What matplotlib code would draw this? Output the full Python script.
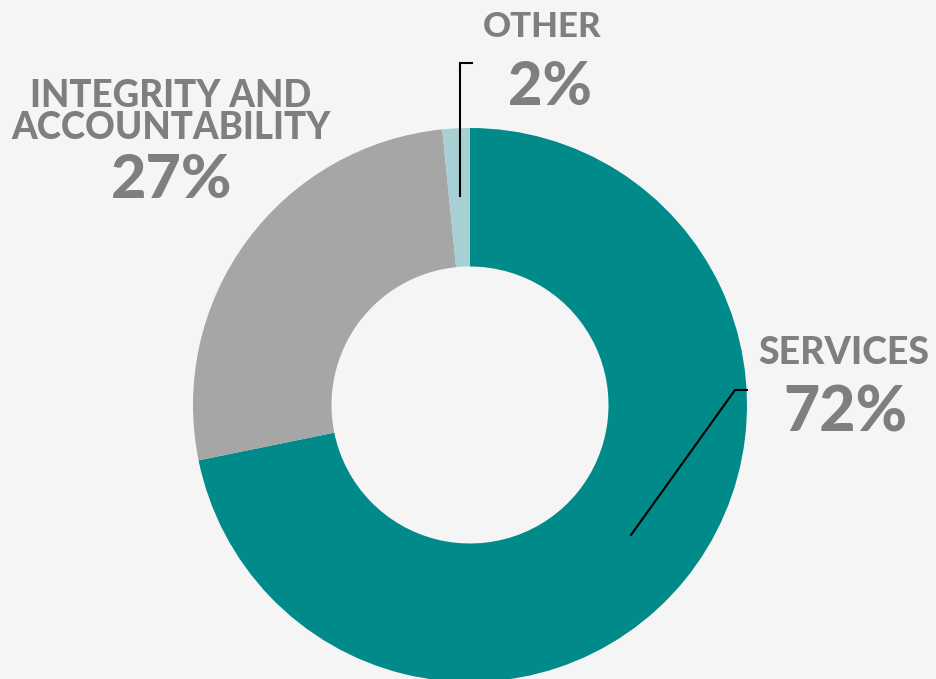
import matplotlib
matplotlib.use("Agg")
import matplotlib.pyplot as plt

# Budget split by category
categories = ["SERVICES", "INTEGRITY AND\nACCOUNTABILITY", "OTHER"]
shares = [71.8, 26.6, 1.6]
colors = ["#008A8A", "#A6A6A6", "#A6D0D3"]

BG = "#F5F5F5"
TXT = "#7F7F7F"
FONT = ["Lato", "DejaVu Sans"]

W, H = 936, 679
fig = plt.figure(figsize=(W / 100, H / 100), dpi=100, facecolor=BG)
ax = fig.add_axes([0, 0, 1, 1])
ax.set_facecolor(BG)

cx, cy, r = 470, 405, 277  # centre and outer radius in pixels


def to_data(px, py):
    return (px - cx) / r, (cy - py) / r


ax.pie(shares, colors=colors, startangle=90, counterclock=False,
       radius=1.0, wedgeprops=dict(width=0.5, linewidth=0))
ax.set_aspect("auto")
ax.set_xlim(-cx / r, (W - cx) / r)
ax.set_ylim(-(H - cy) / r, cy / r)
ax.axis("off")

# leader lines
for pts in ([(460, 196), (460, 63), (472, 63)],
            [(631, 535), (735, 390), (747, 390)]):
    xs, ys = zip(*[to_data(*p) for p in pts])
    ax.plot(xs, ys, color="black", lw=1.5, solid_joinstyle="miter")


def pct(v):
    return f"{round(v / sum(shares) * 100)}%"


label_pos = {
    0: ((844, 353), (845, 414), 27, 45),
    1: ((171, 112), (172, 180), 26.5, 44),
    2: ((542, 27), (550, 87), 25, 43),
}
for i, name in enumerate(categories):
    (nx, ny), (vx, vy), ns, vs = label_pos[i]
    x, y = to_data(nx, ny)
    ax.text(x, y, name, ha="center", va="center", fontsize=ns,
            color=TXT, family=FONT, fontweight="black", linespacing=0.95)
    x, y = to_data(vx, vy)
    ax.text(x, y, pct(shares[i]), ha="center", va="center", fontsize=vs,
            color=TXT, family=FONT, fontweight="black")

fig.savefig("out.png", dpi=100, facecolor=BG)
